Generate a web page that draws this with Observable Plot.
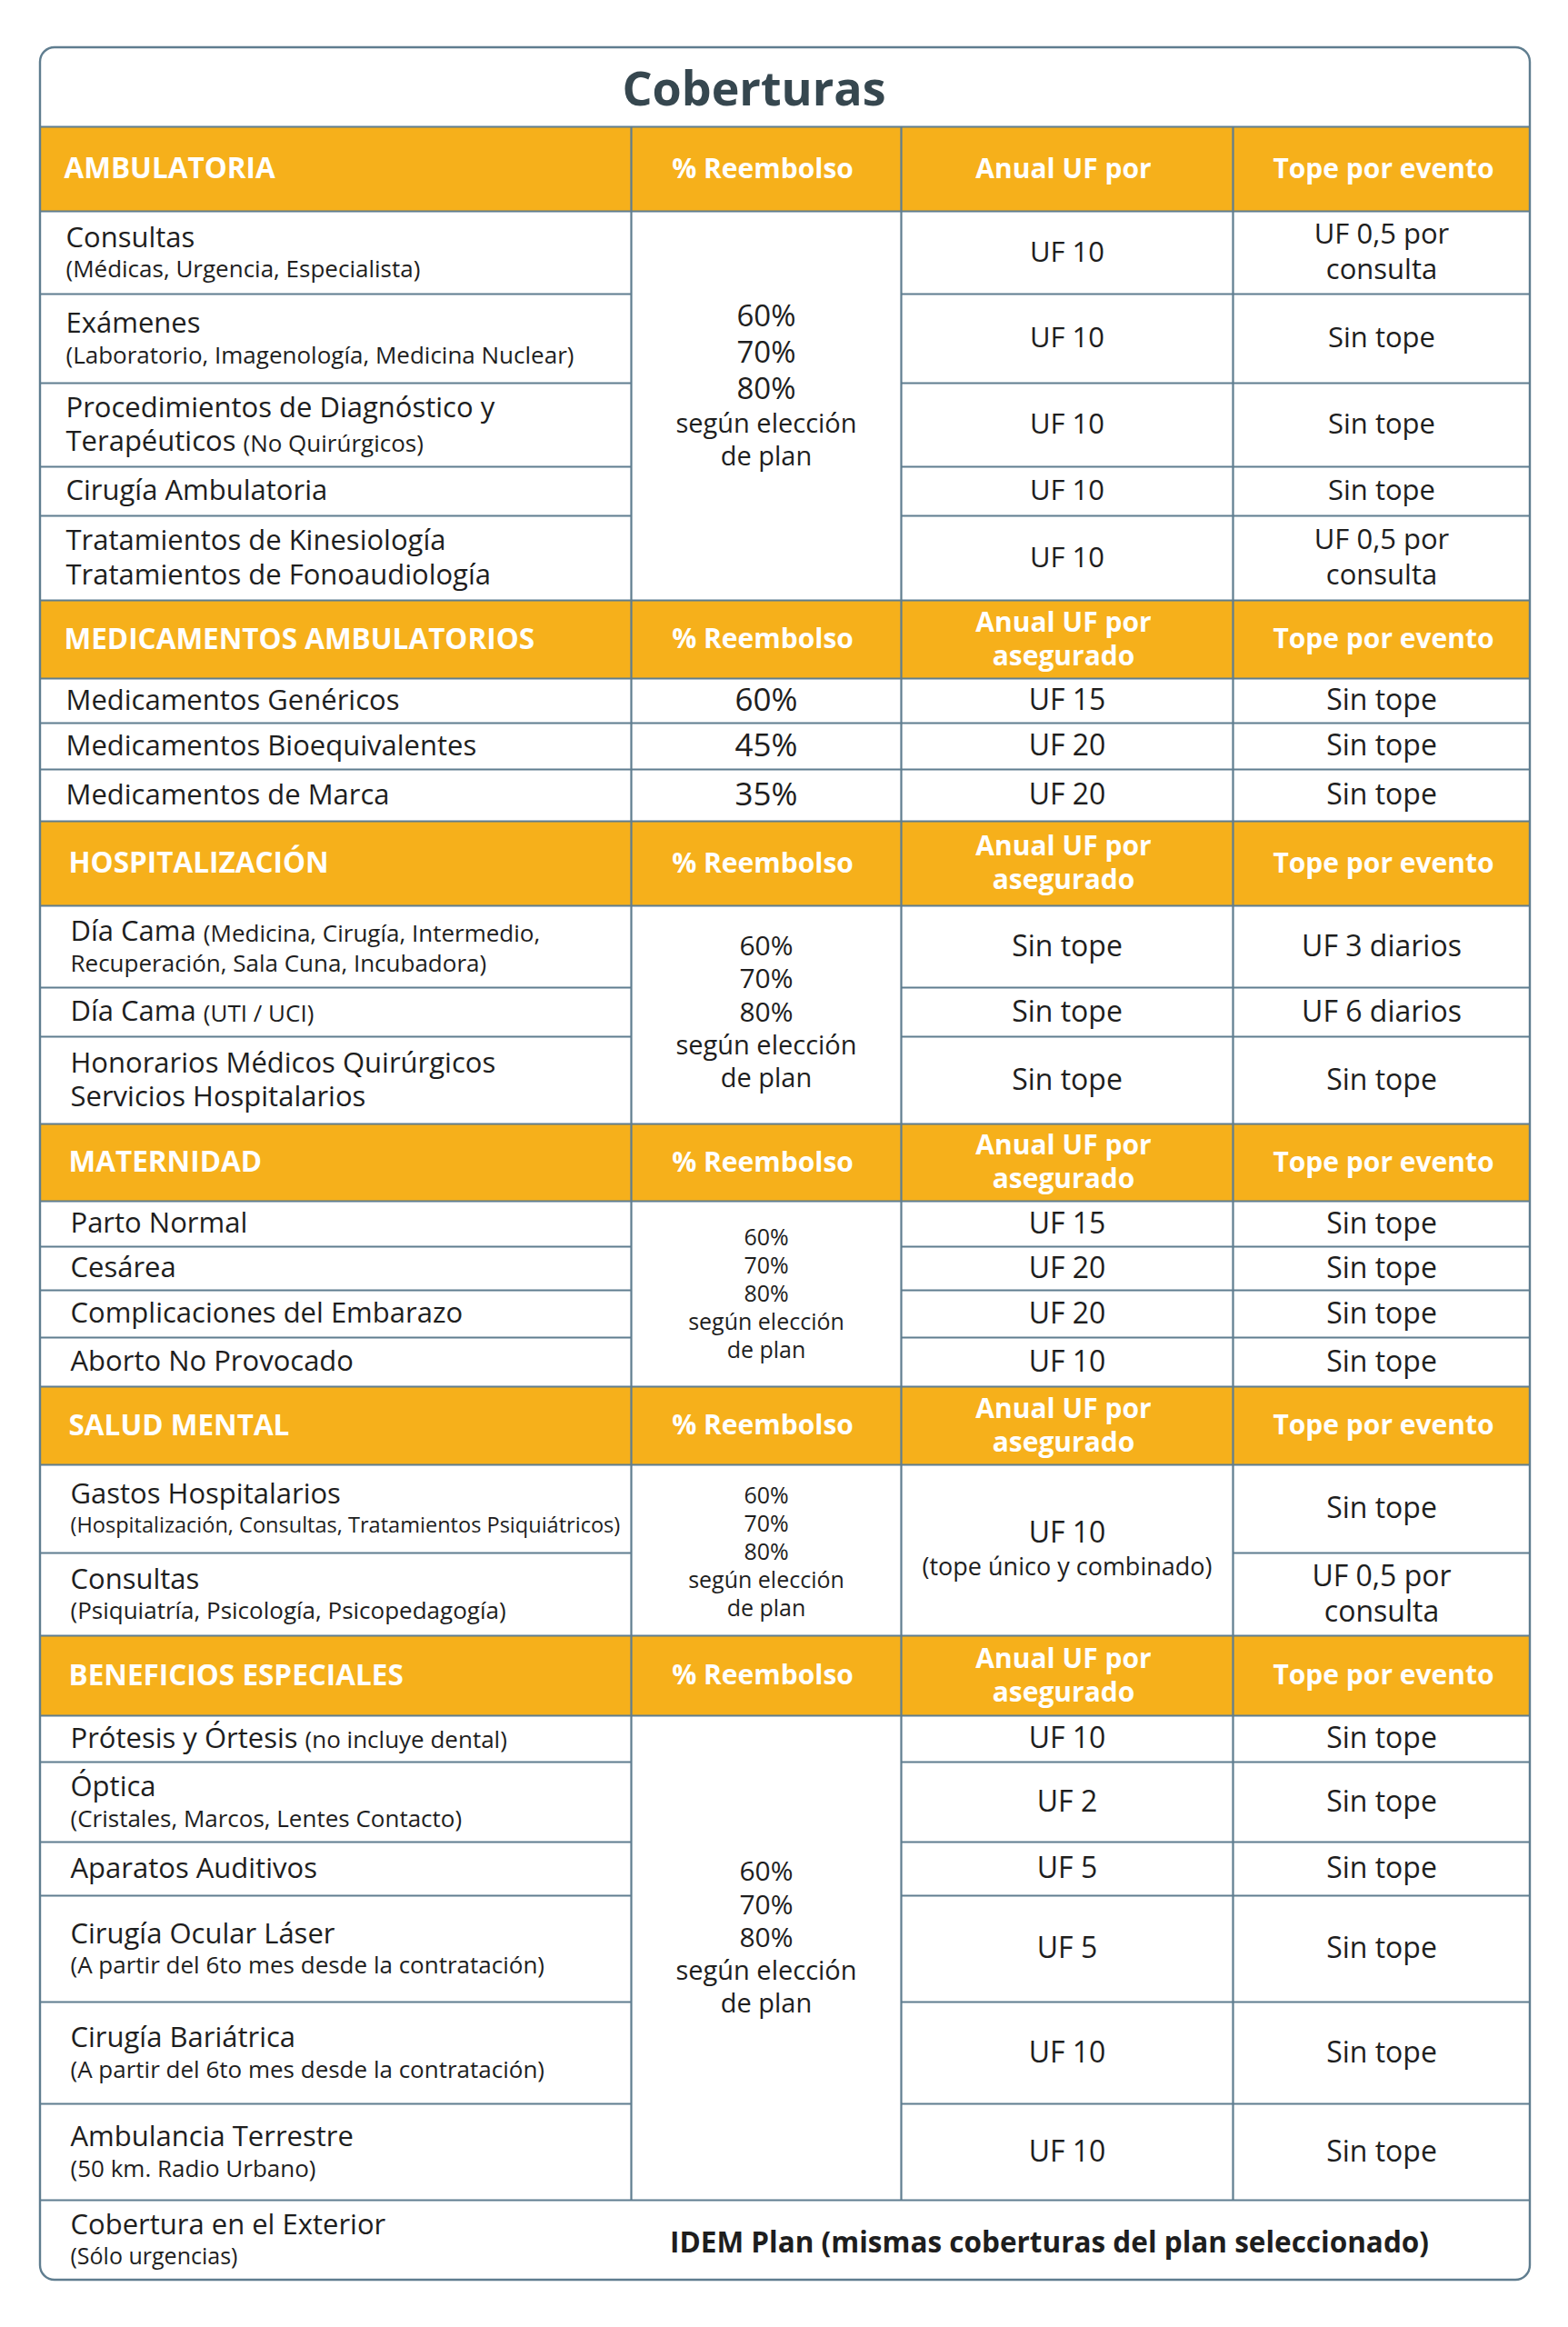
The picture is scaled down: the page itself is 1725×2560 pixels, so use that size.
<!DOCTYPE html>
<html>
<head>
<meta charset="utf-8">
<script src="https://cdn.jsdelivr.net/npm/d3@7"></script>
<script src="https://cdn.jsdelivr.net/npm/@observablehq/plot@0.6"></script>
<style>
  html, body { margin: 0; padding: 0; background: #fff; }
  #chart svg { display: block; }
</style>
</head>
<body>
<div id="chart"></div>
<script>
// ---------------- DATA ----------------
const title = "Coberturas";
const sectionNames = ["AMBULATORIA", "MEDICAMENTOS AMBULATORIOS", "HOSPITALIZACIÓN", "MATERNIDAD", "SALUD MENTAL", "BENEFICIOS ESPECIALES"];
const reembolsoHeader = "% Reembolso";
const anualHeaders = ["Anual UF por", "Anual UF por\nasegurado", "Anual UF por\nasegurado", "Anual UF por\nasegurado", "Anual UF por\nasegurado", "Anual UF por\nasegurado"];
const topeHeader = "Tope por evento";
const planPercents = "60%\n70%\n80%";
const planText = "según elección\nde plan";
const sectionHasPlan = [true, false, true, true, true, true];
const sectionAnual = [null, null, null, null, "UF 10\n(tope único y combinado)", null];

const rowSection = [0, 0, 0, 0, 0, 1, 1, 1, 2, 2, 2, 3, 3, 3, 3, 4, 4, 5, 5, 5, 5, 5, 5];
const rowLabel = [
  "Consultas", "Exámenes", "Procedimientos de Diagnóstico y\nTerapéuticos", "Cirugía Ambulatoria",
  "Tratamientos de Kinesiología\nTratamientos de Fonoaudiología",
  "Medicamentos Genéricos", "Medicamentos Bioequivalentes", "Medicamentos de Marca",
  "Día Cama", "Día Cama", "Honorarios Médicos Quirúrgicos\nServicios Hospitalarios",
  "Parto Normal", "Cesárea", "Complicaciones del Embarazo", "Aborto No Provocado",
  "Gastos Hospitalarios", "Consultas",
  "Prótesis y Órtesis", "Óptica", "Aparatos Auditivos", "Cirugía Ocular Láser", "Cirugía Bariátrica", "Ambulancia Terrestre"
];
const rowNoteInline = [
  "", "", "(No Quirúrgicos)", "", "",
  "", "", "",
  "(Medicina, Cirugía, Intermedio,", "(UTI / UCI)", "",
  "", "", "", "",
  "", "",
  "(no incluye dental)", "", "", "", "", ""
];
const rowNoteBelow = [
  "(Médicas, Urgencia, Especialista)", "(Laboratorio, Imagenología, Medicina Nuclear)", "", "", "",
  "", "", "",
  "Recuperación, Sala Cuna, Incubadora)", "", "",
  "", "", "", "",
  "(Hospitalización, Consultas, Tratamientos Psiquiátricos)", "(Psiquiatría, Psicología, Psicopedagogía)",
  "", "(Cristales, Marcos, Lentes Contacto)", "", "(A partir del 6to mes desde la contratación)", "(A partir del 6to mes desde la contratación)", "(50 km. Radio Urbano)"
];
const rowReembolso = [
  "", "", "", "", "",
  "60%", "45%", "35%",
  "", "", "",
  "", "", "", "",
  "", "",
  "", "", "", "", "", ""
];
const rowAnual = [
  "UF 10", "UF 10", "UF 10", "UF 10", "UF 10",
  "UF 15", "UF 20", "UF 20",
  "Sin tope", "Sin tope", "Sin tope",
  "UF 15", "UF 20", "UF 20", "UF 10",
  "", "",
  "UF 10", "UF 2", "UF 5", "UF 5", "UF 10", "UF 10"
];
const rowTope = [
  "UF 0,5 por\nconsulta", "Sin tope", "Sin tope", "Sin tope", "UF 0,5 por\nconsulta",
  "Sin tope", "Sin tope", "Sin tope",
  "UF 3 diarios", "UF 6 diarios", "Sin tope",
  "Sin tope", "Sin tope", "Sin tope", "Sin tope",
  "Sin tope", "UF 0,5 por\nconsulta",
  "Sin tope", "Sin tope", "Sin tope", "Sin tope", "Sin tope", "Sin tope"
];
const footLabel = "Cobertura en el Exterior";
const footNote = "(Sólo urgencias)";
const footValue = "IDEM Plan (mismas coberturas del plan seleccionado)";

// ---------------- LAYOUT & STYLE ----------------
const W = 1725, H = 2560;
const layout = {
  box: { x1: 44, x2: 1683, y1: 52, y2: 2508, r: 16 },
  titleX: 829, titleY: 99,
  cols: [44, 694, 991, 1356, 1683],
  top: 139,
  headerH: [93, 86, 93, 85, 86, 88],
  rowH: [91, 98, 92, 54, 93, 49, 51, 57, 90, 54, 96, 50, 48, 52, 54, 97, 91, 51, 88, 59, 117, 112, 106],
  footH: 88,
  footValueX: 1154
};
const st = {
  labelX: [72, 72, 77, 77, 77, 77],
  labelSize: [31, 31, 31, 31, 31, 31],
  labelLine: 37.5,
  noteSize: [26, 26, 26, 26, 26, 26],
  noteLine: 32,
  valueSize: [31, 32, 32, 32, 32, 32],
  valueLine: 39,
  valueSubSize: 27,
  rowPctSize: 35,
  mergedPct: [33, 0, 30, 25, 25, 30],
  mergedPctLine: [40, 0, 36.5, 31, 31, 36.5],
  mergedText: [29, 0, 29, 25, 25, 29],
  mergedTextLine: [36, 0, 36, 31, 31, 36],
  mergedOffset: [-22, 0, -3, 0, 2, -22],
  headerNameSize: 31.5,
  headerColSize: 30,
  headerLine: 37
};
const FONT = '"Open Sans", "Noto Sans", sans-serif';
const ORANGE = "#F6B01B";
const LINE = "#5f7d8f";
const INK = "#1e1e1e";
const TITLE_INK = "#36474f";

const ctx = document.createElement("canvas").getContext("2d");
function measure(text, size, weight = "normal") {
  ctx.font = `${weight} ${size}px ${FONT}`;
  return ctx.measureText(text).width;
}

// ---------------- BUILD TABLE GEOMETRY ----------------
const [X0, X1, X2, X3, X4] = layout.cols;
const C1 = (X1 + X2) / 2, C2 = (X2 + X3) / 2, C3 = (X3 + X4) / 2;
const T = { start: [], middle: [], hStart: [], hMiddle: [], bold: [] };
const headerRects = [];
const segs = [];

function block(list, lines, x, yc) {
  const total = d3.sum(lines, d => d.h);
  let y = yc - total / 2;
  for (const l of lines) {
    list.push({ x, y: y + l.h / 2, text: l.text, size: l.size });
    y += l.h;
  }
}

function labelBlock(lines, x, yc, noteSize) {
  const maxW = X1 - x - 12;
  const total = d3.sum(lines, d => d.h);
  let y = yc - total / 2;
  for (const l of lines) {
    const cy = y + l.h / 2;
    let size = l.size;
    const w = measure(l.text, size);
    if (w > maxW) size = size * maxW / w;
    T.start.push({ x, y: cy, text: l.text, size });
    if (l.inline) {
      const dx = measure(l.text + " ", size);
      let ns = noteSize;
      const nw = measure(l.inline, ns);
      if (dx + nw > maxW) ns = ns * (maxW - dx) / nw;
      T.start.push({ x: x + dx, y: cy + 2, text: l.inline, size: ns });
    }
    y += l.h;
  }
}

let y = layout.top;
const rowIdxBySection = sectionNames.map((_, s) => rowSection.map((v, i) => (v === s ? i : -1)).filter(i => i >= 0));

sectionNames.forEach((name, s) => {
  const hh = layout.headerH[s];
  headerRects.push({ x1: X0, x2: X4, y1: y, y2: y + hh });
  segs.push({ x1: X0, x2: X4, y1: y, y2: y });
  segs.push({ x1: X0, x2: X4, y1: y + hh, y2: y + hh });
  const hc = y + hh / 2;
  const hs = st.headerColSize;
  T.hStart.push({ x: st.labelX[s] - 2, y: hc, text: name, size: st.headerNameSize });
  T.hMiddle.push({ x: C1 - 4, y: hc, text: reembolsoHeader, size: hs });
  block(T.hMiddle, anualHeaders[s].split("\n").map(t => ({ text: t, size: hs, h: st.headerLine })), C2 - 4, hc);
  T.hMiddle.push({ x: C3 + 2, y: hc, text: topeHeader, size: hs });
  y += hh;
  const secTop = y;
  const idx = rowIdxBySection[s];
  idx.forEach((i, k) => {
    const h = layout.rowH[i];
    const yc = y + h / 2;
    const lines = rowLabel[i].split("\n").map(t => ({ text: t, size: st.labelSize[s], h: st.labelLine }));
    if (rowNoteInline[i]) lines[lines.length - 1].inline = rowNoteInline[i];
    if (rowNoteBelow[i]) rowNoteBelow[i].split("\n").forEach(t => lines.push({ text: t, size: st.noteSize[s], h: st.noteLine }));
    labelBlock(lines, st.labelX[s], yc, st.noteSize[s]);
    if (rowReembolso[i]) T.middle.push({ x: C1, y: yc, text: rowReembolso[i], size: st.rowPctSize });
    if (rowAnual[i]) block(T.middle, rowAnual[i].split("\n").map(t => ({ text: t, size: st.valueSize[s], h: st.valueLine })), C2, yc);
    if (rowTope[i]) block(T.middle, rowTope[i].split("\n").map(t => ({ text: t, size: st.valueSize[s], h: st.valueLine })), C3, yc);
    if (k < idx.length - 1) {
      const yb = y + h;
      segs.push({ x1: X0, x2: X1, y1: yb, y2: yb });
      if (rowReembolso[i]) segs.push({ x1: X1, x2: X2, y1: yb, y2: yb });
      if (!sectionAnual[s]) segs.push({ x1: X2, x2: X3, y1: yb, y2: yb });
      segs.push({ x1: X3, x2: X4, y1: yb, y2: yb });
    }
    y += h;
  });
  const mc = (secTop + y) / 2;
  if (sectionHasPlan[s]) {
    const lines = [
      ...planPercents.split("\n").map(t => ({ text: t, size: st.mergedPct[s], h: st.mergedPctLine[s] })),
      ...planText.split("\n").map(t => ({ text: t, size: st.mergedText[s], h: st.mergedTextLine[s] }))
    ];
    block(T.middle, lines, C1, mc + st.mergedOffset[s]);
  }
  if (sectionAnual[s]) {
    block(T.middle, sectionAnual[s].split("\n").map((t, j) => ({ text: t, size: j === 0 ? st.valueSize[s] : st.valueSubSize, h: 38 })), C2, mc);
  }
});
segs.push({ x1: X0, x2: X4, y1: y, y2: y });
[X1, X2, X3].forEach(x => segs.push({ x1: x, x2: x, y1: layout.top, y2: y }));

// footer row
const fc = y + layout.footH / 2;
labelBlock([
  { text: footLabel, size: 31, h: 37.5 },
  { text: footNote, size: 25, h: 32 }
], 77, fc, 25);
T.bold.push({ x: layout.footValueX, y: fc + 3, text: footValue, size: 31.5 });

const box = [layout.box];

// ---------------- PLOT ----------------
const textOpts = (fill, anchor, weight) => ({
  x: "x", y: "y", text: "text", fontSize: "size",
  textAnchor: anchor, lineAnchor: "middle", fill, fontWeight: weight, fontFamily: FONT
});

const chart = Plot.plot({
  width: W, height: H,
  marginTop: 0, marginRight: 0, marginBottom: 0, marginLeft: 0,
  x: { domain: [0, W], range: [0, W], axis: null },
  y: { domain: [0, H], range: [0, H], axis: null },
  style: { background: "white" },
  marks: [
    Plot.rect(box, { x1: "x1", x2: "x2", y1: "y1", y2: "y2", fill: "white", rx: layout.box.r }),
    Plot.rect(headerRects, { x1: "x1", x2: "x2", y1: "y1", y2: "y2", fill: ORANGE }),
    Plot.link(segs, { x1: "x1", y1: "y1", x2: "x2", y2: "y2", stroke: LINE, strokeWidth: 2.2 }),
    Plot.rect(box, { x1: "x1", x2: "x2", y1: "y1", y2: "y2", fill: "none", stroke: LINE, strokeWidth: 2.4, rx: layout.box.r }),
    Plot.text([{ x: layout.titleX, y: layout.titleY, text: title, size: 52 }], textOpts(TITLE_INK, "middle", "bold")),
    Plot.text(T.hStart, textOpts("white", "start", "bold")),
    Plot.text(T.hMiddle, textOpts("white", "middle", "bold")),
    Plot.text(T.start, textOpts(INK, "start", "normal")),
    Plot.text(T.middle, textOpts(INK, "middle", "normal")),
    Plot.text(T.bold, textOpts(INK, "middle", "bold"))
  ]
});
document.getElementById("chart").appendChild(chart);
</script>
</body>
</html>
